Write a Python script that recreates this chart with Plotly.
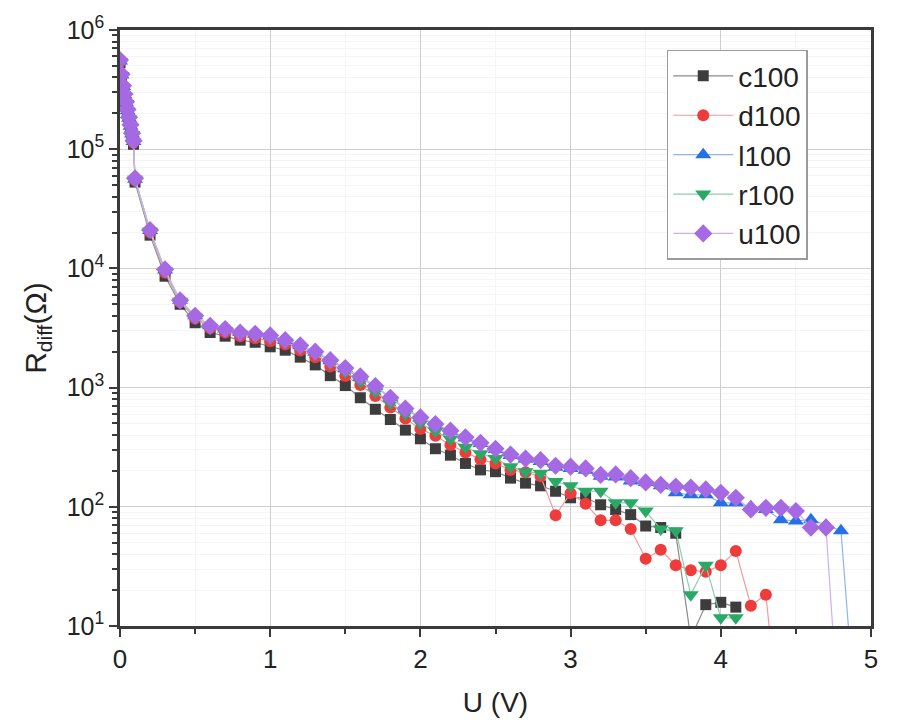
import plotly.graph_objects as go

# Voltage axis: fine steps near 0, then 0.1 V steps
U_FINE = [0.00, 0.01, 0.02, 0.03, 0.04, 0.05, 0.06, 0.07, 0.08, 0.09]
U_MAIN = [round(0.1 * i, 1) for i in range(1, 50)]
U = U_FINE + U_MAIN

c100 = [5.3e5, 4.0e5, 3.2e5, 2.7e5, 2.3e5, 2.0e5, 1.72e5, 1.48e5, 1.27e5, 1.1e5,
        5.3e4, 1.9e4, 8.6e3, 5.0e3, 3.5e3, 2.9e3, 2.7e3, 2.5e3, 2.4e3, 2.2e3,
        2.06e3, 1.8e3, 1.55e3, 1.26e3, 1.04e3, 822, 658, 540, 440, 372,
        307, 271, 231, 204, 197, 174, 158, 150, 135, 119,
        119, 104, 95, 86, 69, 67, 60, 7.9, 15.1, 15.8, 14.4]
d100 = [5.4e5, 4.1e5, 3.3e5, 2.8e5, 2.4e5, 2.07e5, 1.78e5, 1.53e5, 1.31e5, 1.13e5,
        5.5e4, 2.0e4, 9.2e3, 5.2e3, 3.8e3, 3.15e3, 2.9e3, 2.7e3, 2.6e3, 2.45e3,
        2.3e3, 2.05e3, 1.8e3, 1.5e3, 1.25e3, 1.05e3, 850, 680, 550, 450,
        395, 330, 285, 250, 231, 204, 195, 180, 85, 130,
        106, 77, 77, 65, 36.7, 43.6, 32.4, 29.4, 28.5, 32.4,
        42.5, 14.8, 18.3, 1.1]
l100 = [5.5e5, 4.2e5, 3.35e5, 2.85e5, 2.45e5, 2.1e5, 1.82e5, 1.56e5, 1.34e5, 1.16e5,
        5.6e4, 2.08e4, 9.7e3, 5.4e3, 4.0e3, 3.3e3, 3.1e3, 2.9e3, 2.82e3, 2.72e3,
        2.48e3, 2.24e3, 1.98e3, 1.68e3, 1.44e3, 1.22e3, 1.02e3, 815, 660, 555,
        488, 430, 378, 340, 303, 270, 250, 240, 215, 210,
        203, 180, 178, 165, 160, 150, 131, 126, 126, 108,
        108, 100, 95, 78, 76, 78, 70, 63, 1.5]
r100 = [5.45e5, 4.15e5, 3.3e5, 2.8e5, 2.42e5, 2.08e5, 1.8e5, 1.55e5, 1.33e5, 1.15e5,
        5.6e4, 2.05e4, 9.5e3, 5.3e3, 3.9e3, 3.2e3, 3.0e3, 2.8e3, 2.7e3, 2.6e3,
        2.4e3, 2.15e3, 1.9e3, 1.6e3, 1.35e3, 1.12e3, 920, 740, 600, 500,
        430, 370, 316, 279, 254, 217, 197, 191, 163, 150,
        135, 135, 108, 108, 92, 65, 63, 18.3, 32.4, 11.7, 11.7]
u100 = [5.6e5, 4.25e5, 3.4e5, 2.9e5, 2.5e5, 2.15e5, 1.85e5, 1.6e5, 1.36e5, 1.18e5,
        5.7e4, 2.1e4, 9.8e3, 5.4e3, 4.0e3, 3.3e3, 3.1e3, 2.9e3, 2.83e3, 2.74e3,
        2.5e3, 2.26e3, 2.0e3, 1.7e3, 1.46e3, 1.24e3, 1.03e3, 822, 667, 562,
        494, 435, 383, 344, 307, 274, 254, 246, 221, 217,
        210, 185, 187, 174, 160, 153, 148, 145, 140, 131,
        119, 95, 98, 98, 92, 67, 67, 0.9]

SERIES = [
    ("c100", c100, "square", "#3d3d3d", "#8a8a8a", 11),
    ("d100", d100, "circle", "#ee3b3b", "#f29a9a", 12),
    ("l100", l100, "triangle-up", "#2470e6", "#8fb4f0", 14),
    ("r100", r100, "triangle-down", "#2aa866", "#8ccfaa", 14),
    ("u100", u100, "diamond", "#a56ae3", "#cdb0f0", 14),
]

FONT = "Arial, Liberation Sans, sans-serif"

fig = go.Figure()
for name, vals, sym, col, lcol, size in SERIES:
    fig.add_trace(go.Scatter(
        x=U[:len(vals)], y=vals, name=name, mode="lines+markers",
        line=dict(color=lcol, width=1.2),
        marker=dict(symbol=sym, color=col, size=size, line=dict(width=0)),
    ))

decades = [10, 100, 1000, 10000, 100000, 1000000]
decade_labels = ["10<sup>%d</sup>" % e for e in range(1, 7)]
minor_vals = [k * d for d in decades[:-1] for k in range(2, 10)]

fig.update_layout(
    width=900, height=726,
    margin=dict(l=120, r=29, t=25, b=96),
    paper_bgcolor="white", plot_bgcolor="white",
    font=dict(family=FONT, color="#222222"),
    showlegend=True,
    legend=dict(
        x=0.728, y=0.967, xanchor="left", yanchor="top",
        bgcolor="white", bordercolor="#9a9a9a", borderwidth=1.5,
        font=dict(size=28, family=FONT, color="#222222"),
        itemwidth=60, tracegroupgap=0,
    ),
    xaxis=dict(
        range=[0, 5], dtick=1, tick0=0,
        showline=True, linecolor="#3a3a3a", linewidth=2.5, mirror=True,
        ticks="outside", ticklen=8, tickwidth=2, tickcolor="#3a3a3a",
        tickfont=dict(size=26, family=FONT, color="#222222"),
        showgrid=True, gridcolor="#cfcfcf", gridwidth=1,
        zeroline=False,
        minor=dict(dtick=0.5, tick0=0, ticks="outside", ticklen=5, tickwidth=2,
                   tickcolor="#3a3a3a", showgrid=True, gridcolor="#f5f5f5"),
        title=dict(text="U (V)", font=dict(size=28, family=FONT, color="#222222"), standoff=20),
    ),
    yaxis=dict(
        type="log", range=[1, 6],
        tickmode="array", tickvals=decades, ticktext=decade_labels,
        showline=True, linecolor="#3a3a3a", linewidth=2.5, mirror=True,
        ticks="outside", ticklen=8, tickwidth=2, tickcolor="#3a3a3a",
        tickfont=dict(size=25, family=FONT, color="#222222"),
        showgrid=True, gridcolor="#cfcfcf", gridwidth=1,
        zeroline=False,
        minor=dict(tickmode="array", tickvals=minor_vals, ticks="outside", ticklen=5,
                   tickwidth=1.5, tickcolor="#3a3a3a", showgrid=True, gridcolor="#f5f5f5"),
        title=dict(text="R<sub>diff</sub>(Ω)", font=dict(size=30, family=FONT, color="#222222"), standoff=12),
    ),
)

fig.write_html("out.html")
